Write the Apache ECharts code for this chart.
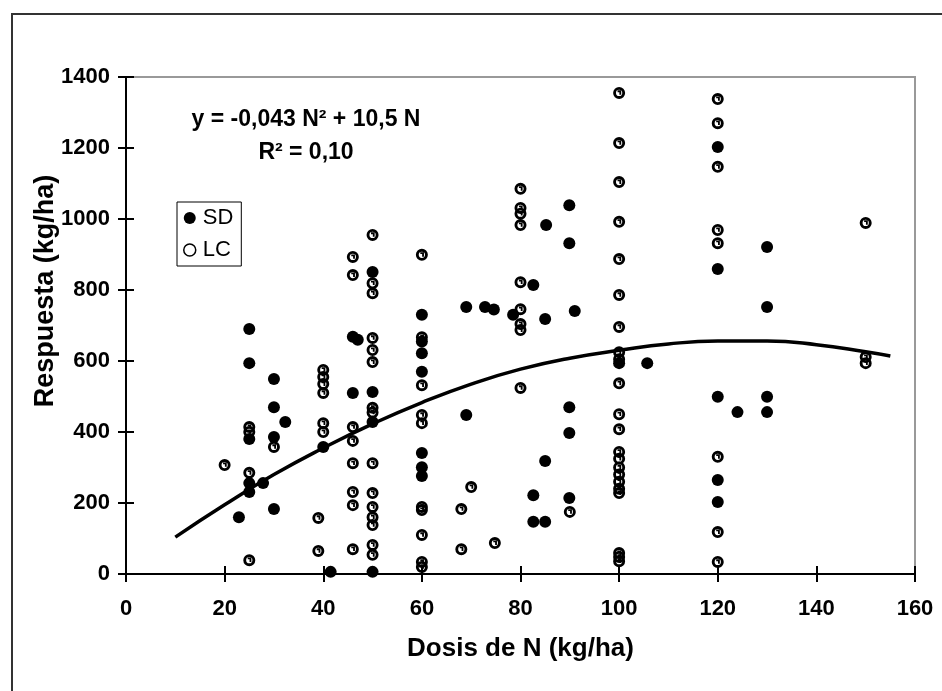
<!DOCTYPE html>
<html>
<head>
<meta charset="utf-8">
<title>Respuesta a la dosis de N</title>
<script src="https://cdn.jsdelivr.net/npm/echarts@6/dist/echarts.min.js"></script>
<style>
  html, body { margin: 0; padding: 0; background: #fff; }
  #chart { width: 942px; height: 691px; }
</style>
</head>
<body>
<div id="chart"></div>
<script>
// ticks de los ejes
var xTicks = [0, 20, 40, 60, 80, 100, 120, 140, 160];
var yTicks = [0, 200, 400, 600, 800, 1000, 1200, 1400];

// SD (puntos llenos) [dosis N, respuesta]
var sdPoints = [
  [22.9, 160], [25, 690], [25, 594], [25, 380], [25, 256], [25, 231], [27.8, 256],
  [30, 549], [30, 470], [30, 386], [30, 183], [32.3, 428],
  [40, 358], [41.5, 6],
  [46, 668], [47, 660], [46, 510],
  [50, 851], [50, 513], [50, 428], [50, 6],
  [60, 730], [60, 655], [60, 622], [60, 570], [60, 341], [60, 301], [60, 276],
  [69, 752], [69, 448], [72.8, 752], [74.6, 745],
  [78.5, 730], [82.6, 814], [85, 718], [91, 741],
  [85.2, 983], [89.9, 1039], [89.9, 932],
  [89.9, 470], [89.9, 397], [85, 318], [82.6, 222], [82.6, 147], [85, 147], [89.9, 214],
  [100, 594], [105.7, 594],
  [120, 1203], [120, 859], [120, 499], [120, 265], [120, 203], [124, 456],
  [130, 921], [130, 752], [130, 499], [130, 456]
];

// LC (puntos vacios)
var lcPoints = [
  [20, 307], [25, 414], [25, 400], [25, 285], [25, 39], [30, 358],
  [40, 575], [40, 555], [40, 535], [40, 510], [40, 425], [40, 400], [39, 158], [39, 65],
  [46, 893], [46, 842], [46, 414], [46, 375], [46, 312], [46, 231], [46, 194], [46, 70],
  [50, 955], [50, 819], [50, 791], [50, 665], [50, 631], [50, 597], [50, 468], [50, 455],
  [50, 312], [50, 228], [50, 189], [50, 160], [50, 138], [50, 82], [50, 54],
  [60, 899], [60, 667], [60, 532], [60, 448], [60, 425], [60, 189], [60, 180], [60, 110], [60, 34], [60, 20],
  [68, 183], [68, 70], [70, 245], [74.8, 87],
  [80, 1085], [80, 1031], [80, 1015], [80, 983], [80, 822], [80, 746], [80, 704], [80, 687], [80, 524],
  [90, 175],
  [100, 1355], [100, 1214], [100, 1104], [100, 992], [100, 887], [100, 786], [100, 696], [100, 625],
  [100, 605], [100, 537], [100, 450], [100, 408], [100, 344], [100, 325], [100, 300], [100, 280],
  [100, 260], [100, 240], [100, 228], [100, 59], [100, 48], [100, 36],
  [120, 1338], [120, 1270], [120, 1147], [120, 969], [120, 932], [120, 330], [120, 118], [120, 34],
  [150, 989], [150, 611], [150, 594]
];

// curva de ajuste
var curvePoints = [
  [10, 104], [20, 195], [30, 280], [40, 355], [50, 423], [60, 483], [70, 535], [80, 577],
  [90, 608], [100, 630], [110, 648], [120, 656], [130, 656], [140, 646], [150, 626], [155, 614]
];

var FONT = "'Liberation Sans', Arial, sans-serif";

// marcador LC: anillo grueso con un ganchito adentro (como en el original)
var LC_SYMBOL = 'path://M0.5 12A11.5 11.5 0 1 1 23.5 12A11.5 11.5 0 1 1 0.5 12Z' +
  'M6 12A6 6 0 1 0 18 12A6 6 0 1 0 6 12Z' +
  'M9 7L16 7L16 15.5L12.5 15.5L12.5 10.5L9 10.5Z';

var chart = echarts.init(document.getElementById('chart'));

function axisBase(ticks) {
  return {
    type: 'value',
    min: ticks[0],
    max: ticks[ticks.length - 1],
    interval: ticks[1] - ticks[0],
    splitLine: { show: false }
  };
}

var tickStyle = { color: '#000', width: 2 };
var labelStyle = {
  color: '#000', fontSize: 22, fontWeight: 'bold', fontFamily: FONT,
  formatter: function (v) { return String(v); } // sin separador de miles
};

var xMain = Object.assign(axisBase(xTicks), {
  gridIndex: 0,
  axisLine: { show: true, onZero: false, lineStyle: { color: '#000', width: 2 } },
  axisTick: { show: true, length: 8, lineStyle: tickStyle },
  axisLabel: Object.assign({ margin: 24 }, labelStyle),
  name: 'Dosis de N (kg/ha)',
  nameLocation: 'middle',
  nameGap: 62,
  nameTextStyle: { color: '#000', fontSize: 26, fontWeight: 'bold', fontFamily: FONT }
});
var yMain = Object.assign(axisBase(yTicks), {
  gridIndex: 0,
  axisLine: { show: true, onZero: false, lineStyle: { color: '#000', width: 2 } },
  axisTick: { show: true, length: 8, lineStyle: tickStyle },
  axisLabel: Object.assign({ margin: 16 }, labelStyle)
});
// segundo juego de ejes solo para los ticks hacia adentro (ticks que cruzan el eje)
var xInner = Object.assign(axisBase(xTicks), {
  gridIndex: 1,
  axisLine: { show: false },
  axisTick: { show: true, inside: true, length: 8, lineStyle: tickStyle },
  axisLabel: { show: false }
});
var yInner = Object.assign(axisBase(yTicks), {
  gridIndex: 1,
  axisLine: { show: false },
  axisTick: { show: true, inside: true, length: 8, lineStyle: tickStyle },
  axisLabel: { show: false }
});

chart.setOption({
  animation: false,
  backgroundColor: '#fff',
  textStyle: { fontFamily: FONT },
  grid: [
    { left: 126, right: 27, top: 77, bottom: 117, show: true, borderColor: '#999', borderWidth: 2 },
    { left: 126, right: 27, top: 77, bottom: 117, show: false }
  ],
  xAxis: [xMain, xInner],
  yAxis: [yMain, yInner],
  legend: {
    left: 177,
    top: 202,
    orient: 'vertical',
    borderColor: '#000',
    borderWidth: 1,
    borderRadius: 0,
    padding: [5, 8, 5, 6],
    itemGap: 10,
    itemWidth: 12,
    itemHeight: 12,
    textStyle: { color: '#000', fontSize: 22, fontFamily: FONT, padding: [0, 0, 0, 2] },
    data: [
      { name: 'SD', icon: 'circle', itemStyle: { color: '#000', borderWidth: 0, opacity: 1 } },
      { name: 'LC', icon: 'circle', itemStyle: { color: '#fff', borderColor: '#000', borderWidth: 1.5, opacity: 1 } }
    ]
  },
  graphic: [
    {
      // marco exterior (cortado a la derecha y abajo)
      type: 'rect',
      shape: { x: 12, y: 14, width: 1000, height: 1000 },
      style: { fill: 'none', stroke: '#333', lineWidth: 2 },
      silent: true
    },
    {
      type: 'text',
      x: 46,
      y: 291,
      rotation: Math.PI / 2,
      style: {
        text: 'Respuesta (kg/ha)',
        font: 'bold 27px ' + FONT,
        fill: '#000',
        textAlign: 'center',
        textVerticalAlign: 'middle'
      }
    },
    {
      type: 'text',
      x: 306,
      y: 120,
      style: {
        text: 'y = -0,043 N\u00b2 + 10,5 N',
        font: 'bold 23px ' + FONT,
        fill: '#000',
        textAlign: 'center',
        textVerticalAlign: 'middle'
      }
    },
    {
      type: 'text',
      x: 306,
      y: 153,
      style: {
        text: 'R\u00b2 = 0,10',
        font: 'bold 23px ' + FONT,
        fill: '#000',
        textAlign: 'center',
        textVerticalAlign: 'middle'
      }
    }
  ],
  series: [
    {
      name: 'Ajuste',
      type: 'line',
      data: curvePoints,
      smooth: true,
      showSymbol: false,
      lineStyle: { color: '#000', width: 3.5 },
      z: 2
    },
    {
      name: 'SD',
      type: 'scatter',
      data: sdPoints,
      symbol: 'circle',
      symbolSize: 12,
      itemStyle: { color: '#000', opacity: 1 },
      z: 3
    },
    {
      name: 'LC',
      type: 'scatter',
      data: lcPoints,
      symbol: LC_SYMBOL,
      symbolSize: 12,
      itemStyle: { color: '#000', opacity: 1 },
      z: 4
    }
  ]
});
</script>
</body>
</html>
